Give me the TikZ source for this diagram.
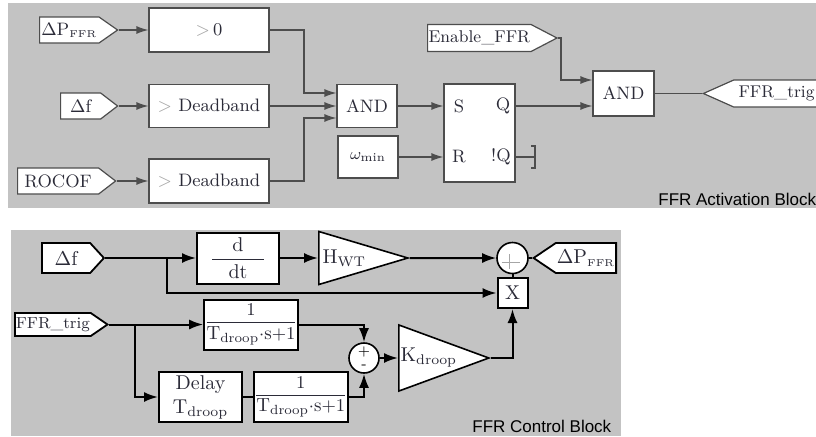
\documentclass[tikz,border=0pt]{standalone}
\usepackage{fontspec}
\usepackage{amsmath}
\usepackage{tikz}
\usetikzlibrary{arrows.meta,positioning,shapes.geometric,shapes.symbols}
\newfontfamily\blockfont{Liberation Sans}
\definecolor{ffrPanel}{HTML}{C3C3C3}
\definecolor{ffrWire}{HTML}{4D4D4D}
\definecolor{ffrInk}{HTML}{2B2B38}
\definecolor{ffrDim}{HTML}{A6A6A6}
\tikzset{
  portin/.style={signal,signal to=east,draw=ffrWire,fill=white,line width=0.6pt,
    inner sep=0.5pt,text=ffrInk,font=\fontsize{9}{10}\selectfont,anchor=west},
  portout/.style={portin,signal to=west,anchor=east},
  logicblock/.style={rectangle,draw=ffrWire,fill=white,line width=0.6pt,
    inner sep=1pt,text=ffrInk,font=\fontsize{9}{10}\selectfont},
  latchpin/.style={inner sep=0pt,text=ffrInk,font=\fontsize{9}{10}\selectfont},
  ctrlport/.style={signal,signal to=east,draw=black,fill=white,line width=0.9pt,
    inner sep=0.5pt,text=ffrInk,font=\fontsize{10}{11}\selectfont,anchor=west},
  ctrlportout/.style={ctrlport,signal to=west,anchor=east},
  ctrlblock/.style={rectangle,draw=black,fill=white,line width=1pt,
    inner sep=0pt,text=ffrInk,font=\fontsize{10}{12}\selectfont},
  gainblock/.style={isosceles triangle,isosceles triangle stretches,draw=black,fill=white,
    line width=0.8pt,inner sep=0pt,text=ffrInk,font=\fontsize{10}{11}\selectfont,anchor=west},
  sumblock/.style={circle,draw=black,fill=white,line width=0.8pt,inner sep=0pt},
  wire/.style={draw=ffrWire,line width=0.6pt},
  arrow/.style={wire,-{Latex[length=6pt,width=4pt]}},
  cwire/.style={draw=black,line width=1pt},
  carrow/.style={cwire,-{Latex[length=7pt,width=5pt]}},
  panel/.style={fill=ffrPanel,draw=none},
  paneltitle/.style={anchor=base west,inner sep=0pt,font=\blockfont\fontsize{8.5}{10}\selectfont}
}

\begin{document}
\begin{tikzpicture}[x=0.5pt,y=-0.5pt]
  \useasboundingbox (0,0) rectangle (816,436);
  \clip (0,0) rectangle (816,436);
  \fill[panel] (8,3) rectangle (816,208);
  \fill[panel] (11,230) rectangle (621,436);

  % activation block
  \node[portin, minimum width=39pt, minimum height=13pt, signal pointer angle=70] (dpin) at (39,30) {$\Delta$P\textsubscript{\tiny FFR}};
  \node[logicblock, minimum width=60pt, minimum height=22pt] (gtz) at (209,30) {{\color{ffrDim}$>$}\,0};
  \node[portin, minimum width=28.5pt, minimum height=13pt, signal pointer angle=75] (dfin) at (60,106) {$\Delta$f};
  \node[logicblock, minimum width=60pt, minimum height=21.5pt] (db1) at (209,106) {{\color{ffrDim}$>$} Deadband};
  \node[portin, minimum width=49pt, minimum height=13pt, signal pointer angle=75] (rocof) at (17,181) {ROCOF};
  \node[logicblock, minimum width=60pt, minimum height=22pt] (db2) at (209,181) {{\color{ffrDim}$>$} Deadband};
  \node[logicblock, minimum width=30pt, minimum height=21.5pt] (and1) at (367,106) {AND};
  \node[logicblock, minimum width=30pt, minimum height=21pt] (wmin) at (368,157) {\footnotesize$\omega_{\mathrm{min}}$};
  \node[logicblock, minimum width=35.5pt, minimum height=49pt] (latch) at (479.5,133) {};
  \node[latchpin] (pinS) at (459,106) {S};
  \node[latchpin] (pinQ) at (503,106) {Q};
  \node[latchpin] (pinR) at (459,157) {R};
  \node[latchpin] (pinNQ) at (501,157) {!Q};
  \node[portin, minimum width=61.5pt, minimum height=13.5pt, signal pointer angle=55, font=\fontsize{8.5}{10}\selectfont] (enable) at (427,38) {Enable\_FFR};
  \node[logicblock, minimum width=30.5pt, minimum height=22.5pt] (and2) at (623.5,93.5) {AND};
  \node[portout, minimum width=58pt, minimum height=13.5pt, signal pointer angle=48, font=\fontsize{8.5}{10}\selectfont] (trigout) at (820,93.5) {FFR\_trig};
  \node[paneltitle] (acttitle) at (658,205) {FFR Activation Block};

  \coordinate (mergeA) at (304,93);
  \coordinate (mergeB) at (304,118);
  \coordinate (enbend) at (561,80);
  \coordinate (nqend) at (535,157);
  \draw[arrow] (dpin.east) -- (gtz.west);
  \draw[arrow] (dfin.east) -- (db1.west);
  \draw[arrow] (rocof.east) -- (db2.west);
  \draw[arrow] (gtz.east) -| (mergeA) -- (and1.west |- mergeA);
  \draw[arrow] (db1.east) -- (and1.west);
  \draw[arrow] (db2.east) -| (mergeB) -- (and1.west |- mergeB);
  \draw[arrow] (and1.east) -- (latch.west |- and1);
  \draw[arrow] (wmin.east) -- (latch.west |- wmin);
  \draw[arrow] (enable.east) -| (enbend) -- (and2.west |- enbend);
  \draw[arrow] (latch.east |- and1) -- (and2.west |- and1);
  \draw[wire] (and2.east) -- (trigout.west);
  \draw[wire] (latch.east |- wmin) -- (nqend);
  \draw[wire] (nqend) ++(-4,-11) -- ++(4,0) -- ++(0,22) -- ++(-4,0);

  % control block
  \node[ctrlport, minimum width=31pt, minimum height=15pt, signal pointer angle=95] (dfc) at (41,258) {$\Delta$f};
  \node[ctrlblock, minimum width=41pt, minimum height=25.5pt] (ddt) at (238,258) {$\dfrac{\mathrm{d}}{\makebox[26pt]{dt}}$};
  \node[gainblock, minimum width=24.5pt, minimum height=44.5pt] (hwt) at (318,258) {H$_{\mathrm{WT}}$};
  \node[sumblock, minimum size=15.5pt] (sumtop) at (512.5,258) {};
  \node[ctrlblock, minimum size=15pt] (mult) at (512.5,293) {X};
  \node[ctrlportout, minimum width=40pt, minimum height=15pt, signal pointer angle=68] (dpout) at (617,258) {$\Delta$P\textsubscript{\tiny FFR}};
  \node[ctrlport, minimum width=46pt, minimum height=11.5pt, signal pointer angle=69, font=\fontsize{8}{9}\selectfont] (trigin) at (14,324.5) {FFR\_trig};
  \node[ctrlblock, minimum width=45pt, minimum height=25pt, font=\fontsize{9.5}{11}\selectfont] (lag1) at (251,324.5) {$\dfrac{1}{\mathrm{T}_{\mathrm{droop}}{\cdot}\mathrm{s}{+}1}$};
  \node[ctrlblock, minimum width=41.5pt, minimum height=25pt, align=center] (delay) at (200.5,397) {Delay\\T$_{\mathrm{droop}}$};
  \node[ctrlblock, minimum width=45pt, minimum height=25pt, font=\fontsize{9.5}{11}\selectfont, right=5pt of delay] (lag2) {$\dfrac{1}{\mathrm{T}_{\mathrm{droop}}{\cdot}\mathrm{s}{+}1}$};
  \node[sumblock, minimum size=15pt, align=center, font=\fontsize{7}{8}\selectfont] (sumlow) at (364,358) {$+$\\[-1.5pt]-};
  \node[gainblock, minimum width=27.5pt, minimum height=45pt] (kdroop) at (398,358) {K$_{\mathrm{droop}}$};
  \node[paneltitle] (ctrltitle) at (472,432) {FFR Control Block};
  \draw[ffrDim, line width=0.5pt] ([shift={(-11,4)}]sumtop.center) -- ++(18,0);
  \draw[ffrDim, line width=0.5pt] ([shift={(-3,-4)}]sumtop.center) -- ++(0,15);

  \coordinate (dfsplit) at (167,258);
  \coordinate (trigsplit) at (135,324.5);
  \draw[carrow] (dfc.east) -- (ddt.west);
  \draw[carrow] (dfsplit) |- (mult.west);
  \draw[carrow] (ddt.east) -- (hwt.west);
  \draw[carrow] (hwt.apex) -- (sumtop.west);
  \draw[cwire] (sumtop.east) -- (dpout.west);
  \draw[cwire] (sumtop.south) -- (mult.north);
  \draw[carrow] (trigin.east) -- (lag1.west);
  \draw[carrow] (trigsplit) |- (delay.west);
  \draw[cwire] (delay.east) -- (lag2.west);
  \draw[carrow] (lag1.east) -| (sumlow.north);
  \draw[carrow] (lag2.east) -| (sumlow.south);
  \draw[carrow] (sumlow.east) -- (kdroop.west);
  \draw[carrow] (kdroop.apex) -| (mult.south);
\end{tikzpicture}
\end{document}
